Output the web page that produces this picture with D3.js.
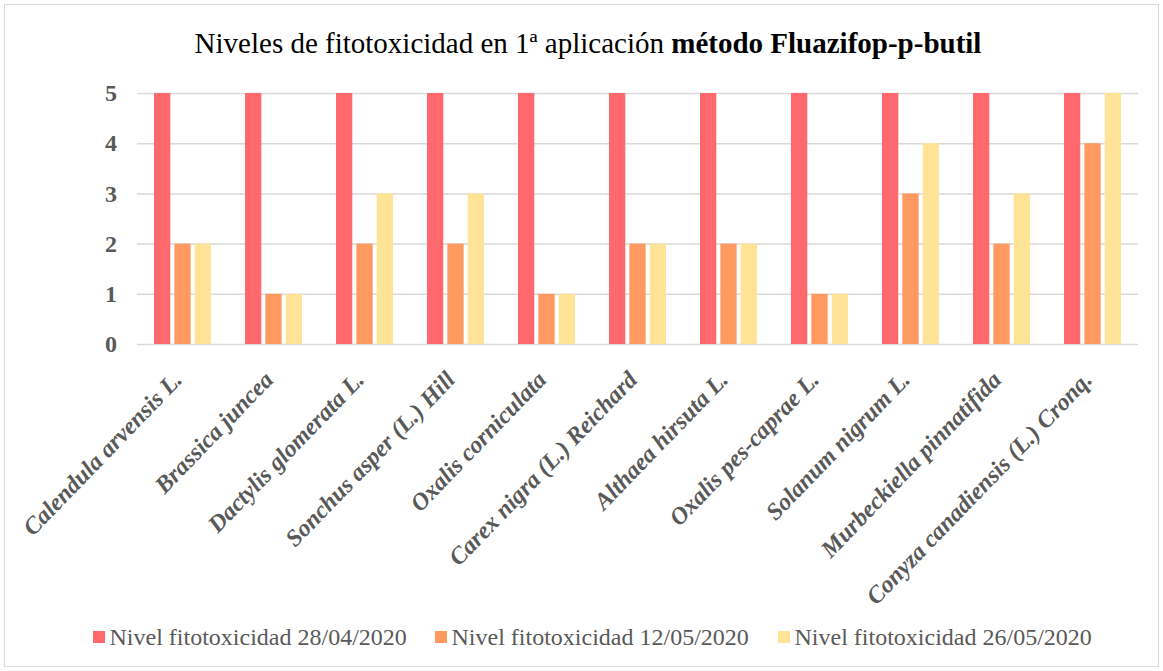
<!DOCTYPE html>
<html>
<head>
<meta charset="utf-8">
<script src="https://cdn.jsdelivr.net/npm/d3@7"></script>
<style>
    body { margin: 0; background: #fff; }
</style>
</head>
<body>
<div class="canvas"></div>
<script>
// data
const species = ['Calendula arvensis L.', 'Brassica juncea', 'Dactylis glomerata L.', 'Sonchus asper (L.) Hill',
    'Oxalis corniculata', 'Carex nigra (L.) Reichard', 'Althaea hirsuta L.', 'Oxalis pes-caprae L.',
    'Solanum nigrum L.', 'Murbeckiella pinnatifida', 'Conyza canadiensis (L.) Cronq.']
const nivel2804 = [5, 5, 5, 5, 5, 5, 5, 5, 5, 5, 5]
const nivel1205 = [2, 1, 2, 2, 1, 2, 2, 1, 3, 2, 4]
const nivel2605 = [2, 1, 3, 3, 1, 2, 2, 1, 4, 3, 5]
const seriesNames = ['Nivel fitotoxicidad 28/04/2020', 'Nivel fitotoxicidad 12/05/2020', 'Nivel fitotoxicidad 26/05/2020']
const yTicks = [0, 1, 2, 3, 4, 5]

const colors = ['#ff686c', '#fe9a60', '#ffe497']
const allSeries = [nivel2804, nivel1205, nivel2605]
const serif = "'Liberation Serif', 'Times New Roman', serif"

const width = 1163, height = 671
const margin = { top: 93, right: 25, bottom: 327, left: 137 }
const graphWidth = width - margin.left - margin.right
const graphHeight = height - margin.top - margin.bottom

const svg = d3.select('.canvas')
    .append('svg')
    .attr('width', width)
    .attr('height', height)
    .attr('font-family', serif)
    .style('display', 'block')

// outer frame
svg.append('rect')
    .attr('x', 4.5).attr('y', 4.5)
    .attr('width', width - 9).attr('height', height - 9)
    .attr('fill', '#fff')
    .attr('stroke', '#d9d9d9')

// title
const title = svg.append('text')
    .attr('x', 588).attr('y', 53)
    .attr('text-anchor', 'middle')
    .attr('font-family', serif)
    .attr('font-size', 29)
    .attr('fill', '#000')
title.append('tspan').text('Niveles de fitotoxicidad en 1ª aplicación ')
title.append('tspan').attr('font-weight', 'bold').text('método Fluazifop-p-butil')

const graph = svg.append('g')
    .attr('transform', `translate(${margin.left}, ${margin.top})`)

// scales
const x = d3.scaleBand()
    .domain(species)
    .range([0, graphWidth])

const xSub = d3.scaleBand()
    .domain(d3.range(3))
    .range([17, x.bandwidth() - 17])
    .paddingInner(0.2)

const y = d3.scaleLinear()
    .domain([0, 5])
    .range([graphHeight, 0])

// gridlines + y axis
const yAxis = d3.axisLeft(y)
    .tickValues(yTicks)
    .tickSize(-graphWidth)
    .tickPadding(20)
    .tickFormat(d3.format('d'))

graph.append('g')
    .call(yAxis)
    .call(g => g.select('.domain').remove())
    .call(g => g.selectAll('line').attr('stroke', '#d9d9d9').attr('stroke-width', 1.5))
    .call(g => g.selectAll('text')
        .attr('font-size', 24)
        .attr('font-weight', 'bold')
        .attr('font-family', serif)
        .attr('fill', '#595959'))

// bars
const groups = graph.selectAll('g.grp')
    .data(species)
    .enter()
    .append('g')
    .attr('class', 'grp')
    .attr('transform', d => `translate(${x(d)}, 0)`)

groups.selectAll('rect')
    .data((d, i) => allSeries.map((s, k) => ({ k, v: s[i] })))
    .enter()
    .append('rect')
    .attr('x', d => xSub(d.k))
    .attr('width', xSub.bandwidth())
    .attr('y', d => y(d.v))
    .attr('height', d => graphHeight - y(d.v))
    .attr('fill', d => colors[d.k])

// x labels
const xAxis = d3.axisBottom(x).tickSize(0).tickPadding(0)
graph.append('g')
    .attr('transform', `translate(0, ${graphHeight})`)
    .call(xAxis)
    .call(g => g.select('.domain').remove())
    .call(g => g.selectAll('text')
        .attr('font-size', 24)
        .attr('font-weight', 'bold')
        .attr('font-style', 'italic')
        .attr('font-family', serif)
        .attr('fill', '#595959')
        .attr('text-anchor', 'end')
        .attr('dy', 0)
        .attr('y', 0)
        .attr('transform', 'translate(1, 37) rotate(-46)'))

// legend
const legendX = [93, 435, 778]
const legend = svg.selectAll('g.legend')
    .data(seriesNames)
    .enter()
    .append('g')
    .attr('class', 'legend')
    .attr('transform', (d, i) => `translate(${legendX[i]}, 637)`)

legend.append('rect')
    .attr('x', 0).attr('y', -6)
    .attr('width', 12).attr('height', 12)
    .attr('fill', (d, i) => colors[i])

legend.append('text')
    .attr('x', 16.5).attr('y', 8)
    .attr('font-family', serif)
    .attr('font-size', 24)
    .attr('fill', '#595959')
    .text(d => d)
</script>
</body>
</html>
